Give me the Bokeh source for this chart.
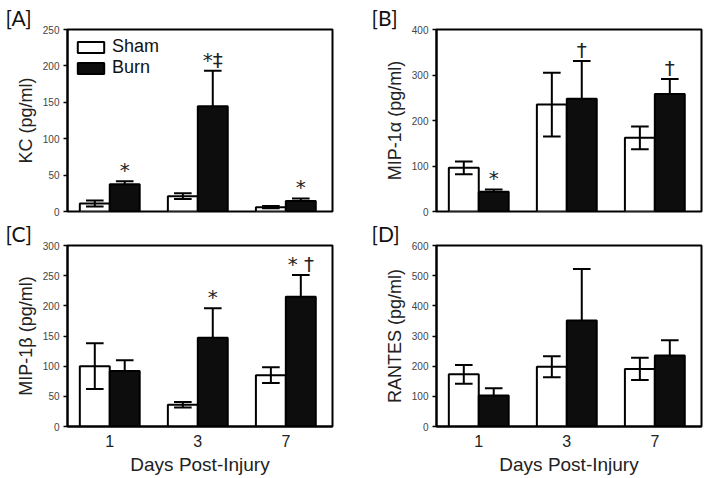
from bokeh.plotting import figure
from bokeh.layouts import gridplot
from bokeh.models import Range1d, FixedTicker, ColumnDataSource
from bokeh.core.properties import value
from bokeh.embed import file_html
from bokeh.resources import INLINE

days = ["1", "3", "7"]
series_names = ["Sham", "Burn"]

# [A] KC (pg/ml)
kc_sham = [11, 21, 6]
kc_sham_err = [4, 4, 1.5]
kc_burn = [37.5, 144.5, 14.5]
kc_burn_err = [4, 49, 3.5]
kc_marks = ["*", "*‡", "*"]

# [B] MIP-1α (pg/ml)
mip1a_sham = [96, 235, 162]
mip1a_sham_err = [14, 70, 25]
mip1a_burn = [43.5, 248, 258]
mip1a_burn_err = [5, 83, 33]
mip1a_marks = ["*", "†", "†"]

# [C] MIP-1β (pg/ml)
mip1b_sham = [100, 36, 85]
mip1b_sham_err = [38, 4.5, 13]
mip1b_burn = [92, 147, 215]
mip1b_burn_err = [18, 49, 36]
mip1b_marks = ["", "*", "* †"]

# [D] RANTES (pg/ml)
rantes_sham = [173, 198, 191]
rantes_sham_err = [31, 35, 37]
rantes_burn = [103, 351, 235]
rantes_burn_err = [24, 171, 51]
rantes_marks = ["", "", ""]

FONT = "Liberation Sans"
BW = 0.34


def panel(tag, ylabel, ymax, step, sham, sham_e, burn, burn_e, marks,
          bottom, left, legend=False):
    n = len(days)
    idx = list(range(n))
    xs = [i - BW / 2 for i in idx]
    xb = [i + BW / 2 for i in idx]
    if bottom:
        h, bt, bb = 261, 28, 52
    else:
        h, bt, bb = 217, 29, 6
    w = 354
    bl, br = (67, 22) if left else (82, 7)
    p = figure(width=w, height=h, output_backend="svg", toolbar_location=None,
               x_range=Range1d(-0.48, 2.53), y_range=Range1d(0, ymax),
               min_border_left=bl, min_border_right=br,
               min_border_top=bt, min_border_bottom=bb)
    p.grid.visible = False
    p.outline_line_color = "black"
    p.outline_line_width = 2
    p.outline_line_alpha = 1
    p.background_fill_color = "white"
    p.border_fill_color = "white"

    # panel tag as a left-shifted title
    p.title.text = tag
    p.title.align = "left"
    p.title.offset = -62 if left else -65
    p.title.standoff = 0
    p.title.text_font = "Lato"
    p.title.text_font_size = "21px"
    p.title.text_font_style = "normal"
    p.title.text_color = "#111111"

    src = ColumnDataSource(dict(
        xs=xs, xb=xb, sham=sham, burn=burn,
        s_lo=[v - e for v, e in zip(sham, sham_e)],
        s_hi=[v + e for v, e in zip(sham, sham_e)],
        b_hi=[v + e for v, e in zip(burn, burn_e)],
        xs_l=[x - 0.1 for x in xs], xs_r=[x + 0.1 for x in xs],
        xb_l=[x - 0.1 for x in xb], xb_r=[x + 0.1 for x in xb],
        marks=marks,
    ))
    kw_s = dict(legend_label=series_names[0]) if legend else {}
    kw_b = dict(legend_label=series_names[1]) if legend else {}
    p.vbar(x="xs", top="sham", width=BW, bottom=0, source=src,
           fill_color="white", line_color="black", line_width=2, **kw_s)
    p.vbar(x="xb", top="burn", width=BW, bottom=0, source=src,
           fill_color="#0d0d0d", line_color="black", line_width=2, **kw_b)
    # sham: two-sided error bars
    p.segment(x0="xs", y0="s_lo", x1="xs", y1="s_hi", source=src, line_color="black", line_width=2)
    p.segment(x0="xs_l", y0="s_hi", x1="xs_r", y1="s_hi", source=src, line_color="black", line_width=2)
    p.segment(x0="xs_l", y0="s_lo", x1="xs_r", y1="s_lo", source=src, line_color="black", line_width=2)
    # burn: upper error bars (lower part hidden in black bar)
    p.segment(x0="xb", y0="burn", x1="xb", y1="b_hi", source=src, line_color="black", line_width=2)
    p.segment(x0="xb_l", y0="b_hi", x1="xb_r", y1="b_hi", source=src, line_color="black", line_width=2)
    p.text(x="xb", y="b_hi", text="marks", source=src, text_align="center",
           text_baseline="bottom", y_offset=1, text_font=value("DejaVu Sans"),
           text_font_size="20px", text_color="#222222")

    yax = p.yaxis[0]
    yax.ticker = FixedTicker(ticks=list(range(0, ymax + 1, step)))
    yax.axis_label = ylabel
    yax.axis_label_text_font = FONT
    yax.axis_label_text_font_style = "normal"
    yax.axis_label_text_font_size = "18px"
    yax.axis_label_text_color = "#222222"
    yax.axis_label_standoff = 4
    yax.major_label_text_font = FONT
    yax.major_label_text_font_size = "10px"
    yax.major_label_text_color = "#444444"
    yax.major_label_standoff = 4
    yax.major_tick_out = 4
    yax.major_tick_in = 0
    yax.minor_tick_out = 0
    yax.minor_tick_in = 0
    yax.axis_line_color = "black"
    yax.axis_line_width = 2
    yax.major_tick_line_color = "black"
    yax.major_tick_line_width = 1.5

    xax = p.xaxis[0]
    if bottom:
        xax.ticker = FixedTicker(ticks=idx)
        xax.major_label_overrides = {i: d for i, d in zip(idx, days)}
        xax.axis_label = "Days Post-Injury"
        xax.axis_label_text_font = FONT
        xax.axis_label_text_font_style = "normal"
        xax.axis_label_text_font_size = "19px"
        xax.axis_label_text_color = "#222222"
        xax.axis_label_standoff = 4
        xax.major_label_text_font = FONT
        xax.major_label_text_font_size = "16px"
        xax.major_label_text_color = "#222222"
        xax.major_label_standoff = 8
        xax.major_tick_out = 0
        xax.major_tick_in = 0
        xax.minor_tick_out = 0
        xax.minor_tick_in = 0
        xax.axis_line_color = "black"
        xax.axis_line_width = 2
    else:
        xax.visible = False

    if legend:
        lg = p.legend[0]
        lg.location = "top_left"
        lg.margin = 0
        lg.padding = 7
        lg.spacing = 0
        lg.glyph_width = 33
        lg.glyph_height = 14
        lg.label_height = 21
        lg.label_standoff = 5
        lg.label_text_font = FONT
        lg.label_text_font_size = "18px"
        lg.label_text_color = "#111111"
        lg.border_line_alpha = 0
        lg.background_fill_alpha = 0
    return p


pa = panel("[A]", "KC (pg/ml)", 250, 50, kc_sham, kc_sham_err, kc_burn, kc_burn_err,
           kc_marks, bottom=False, left=True, legend=True)
pb = panel("[B]", "MIP-1α (pg/ml)", 400, 100, mip1a_sham, mip1a_sham_err, mip1a_burn,
           mip1a_burn_err, mip1a_marks, bottom=False, left=False)
pc = panel("[C]", "MIP-1β (pg/ml)", 300, 50, mip1b_sham, mip1b_sham_err, mip1b_burn,
           mip1b_burn_err, mip1b_marks, bottom=True, left=True)
pd_ = panel("[D]", "RANTES (pg/ml)", 600, 100, rantes_sham, rantes_sham_err, rantes_burn,
            rantes_burn_err, rantes_marks, bottom=True, left=False)

grid = gridplot([[pa, pb], [pc, pd_]], toolbar_location=None)
open("out.html", "w").write(file_html(grid, INLINE))
